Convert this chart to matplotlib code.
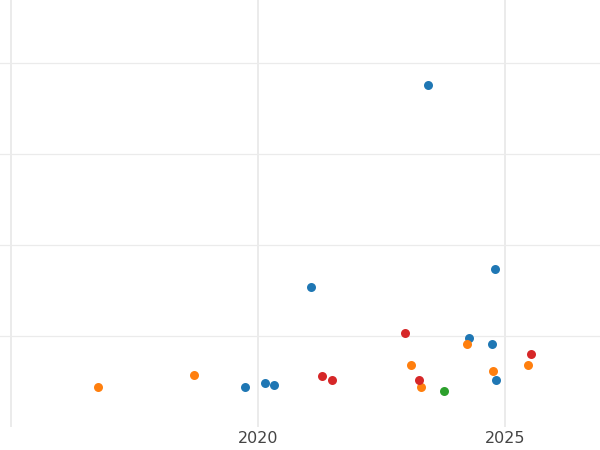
import matplotlib
matplotlib.use("Agg")
import matplotlib.pyplot as plt

# year, value per series
blue_x = [2023.44, 2024.80, 2021.08, 2019.74, 2020.14, 2020.33, 2024.28, 2024.74, 2024.81]
blue_y = [37.55, 17.36, 15.38, 4.36, 4.80, 4.58, 9.78, 9.15, 5.16]

orange_x = [2016.77, 2018.71, 2023.10, 2023.29, 2024.24, 2024.75, 2025.46]
orange_y = [4.36, 5.75, 6.78, 4.36, 9.15, 6.19, 6.78]

red_x = [2022.97, 2021.30, 2021.50, 2023.25, 2025.52]
red_y = [10.36, 5.57, 5.16, 5.16, 7.99]

green_x = [2023.76]
green_y = [3.99]

x_ticks = [2015, 2020, 2025]
x_labels = ["", "2020", "2025"]
y_ticks = [10, 20, 30, 40]

fig = plt.figure(figsize=(6, 4.5), dpi=100)
ax = fig.add_axes([0, 23 / 450, 1, 427 / 450])

ms = 42
ax.scatter(blue_x, blue_y, s=ms, color="#1f77b4", linewidths=0, zorder=3)
ax.scatter(orange_x, orange_y, s=ms, color="#ff7f0e", linewidths=0, zorder=3)
ax.scatter(red_x, red_y, s=ms, color="#d62728", linewidths=0, zorder=3)
ax.scatter(green_x, green_y, s=ms, color="#2ca02c", linewidths=0, zorder=3)

ax.set_xlim(2014.777, 2026.923)
ax.set_ylim(0, 46.92)

ax.set_xticks(x_ticks)
ax.set_xticklabels(x_labels, fontsize=11.5, color="#444444")
ax.set_yticks(y_ticks)
ax.set_yticklabels([])
ax.tick_params(length=0, pad=3)

ax.grid(axis="x", color="#ebebeb", linewidth=1.4)
ax.grid(axis="y", color="#ebebeb", linewidth=0.9)
ax.set_axisbelow(True)
for s in ax.spines.values():
    s.set_visible(False)

fig.savefig("out.png", dpi=100)
